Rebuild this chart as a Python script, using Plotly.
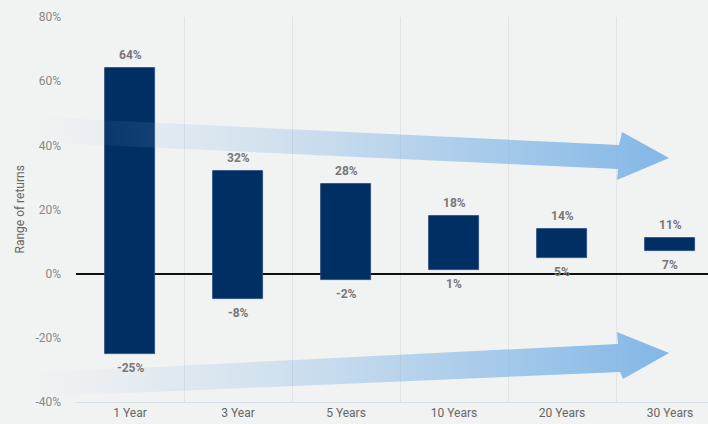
import plotly.graph_objects as go

# ---- data ----
categories = ["1 Year", "3 Year", "5 Years", "10 Years", "20 Years", "30 Years"]
low = [-25, -8, -2, 1, 5, 7]
high = [64, 32, 28, 18, 14, 11]
y_ticks = [-40, -20, 0, 20, 40, 60, 80]
y_tick_text = [f"{v}%" for v in y_ticks]

W, H = 708, 424
L, R, T, B = 76, 708, 17, 402  # plot-area pixel box
BG = "#F1F2F2"
BAR = "#002F63"

fig = go.Figure()

# floating bars (low -> high)
fig.add_trace(go.Bar(
    x=categories,
    y=[h - l for h, l in zip(high, low)],
    base=low,
    width=0.47,
    marker=dict(color=BAR, line=dict(color="#24497a", width=0.8)),
    hoverinfo="skip",
    xaxis="x", yaxis="y",
))

# decorative gradient arrows on a full-figure pixel overlay
def arrow(tail_top, tail_bot, shaft_top, shaft_bot, head_top, tip, head_bot):
    xs = [tail_top[0], shaft_top[0], head_top[0], tip[0], head_bot[0], shaft_bot[0], tail_bot[0], tail_top[0]]
    ys = [tail_top[1], shaft_top[1], head_top[1], tip[1], head_bot[1], shaft_bot[1], tail_bot[1], tail_top[1]]
    return go.Scatter(
        x=xs, y=ys, mode="lines", fill="toself",
        line=dict(width=0, color="rgba(0,0,0,0)"),
        fillgradient=dict(
            type="horizontal",
            colorscale=[[0, "rgba(125,180,230,0)"], [0.1, "rgba(125,180,230,0.06)"],
                        [0.35, "rgba(125,180,230,0.25)"],
                        [0.7, "rgba(125,180,230,0.62)"], [1, "rgba(125,180,230,0.95)"]],
        ),
        hoverinfo="skip", showlegend=False, xaxis="x2", yaxis="y2",
    )

fig.add_trace(arrow((35, 117), (35, 142), (619, 145), (618, 169), (622, 132), (669, 158), (617, 180)))
fig.add_trace(arrow((35, 373), (35, 397), (618, 344), (620, 372), (617, 332), (669, 353), (623, 379)))

# value labels
lab_font = dict(family="Roboto", size=12, color="#777777", weight="bold")
ann = []
for c, h, l in zip(categories, high, low):
    ann.append(dict(x=c, y=h, xref="x", yref="y", text=f"{h}%", showarrow=False,
                    yshift=13, font=lab_font))
    ann.append(dict(x=c, y=l, xref="x", yref="y", text=f"{l}%", showarrow=False,
                    yshift=-14, font=lab_font))
ann.append(dict(x=19 / W, y=1 - ((T + B) / 2) / H, xref="paper", yref="paper",
                xanchor="center", yanchor="middle",
                text="Range of returns", textangle=-90, showarrow=False,
                font=dict(family="Roboto", size=12, color="#666666")))

cat_w = 108.0
fig.update_layout(
    width=W, height=H,
    margin=dict(l=0, r=0, t=0, b=0, autoexpand=False),
    paper_bgcolor=BG, plot_bgcolor="rgba(0,0,0,0)",
    showlegend=False,
    bargap=0,
    font=dict(family="Roboto", size=12, color="#777777"),
    xaxis=dict(
        domain=[L / W, R / W],
        type="category",
        range=[-0.5, -0.5 + (R - L) / cat_w],
        tickson="boundaries",
        showgrid=True, gridcolor="#E1E3E4", gridwidth=1,
        showline=True, linecolor="#D5DDE8", linewidth=1,
        ticks="", tickfont=dict(family="Roboto", size=12, color="#666666"),
        automargin=False, fixedrange=True,
    ),
    yaxis=dict(
        domain=[1 - B / H, 1 - T / H],
        range=[-40, 80],
        tickmode="array", tickvals=y_ticks, ticktext=y_tick_text,
        showgrid=False,
        zeroline=True, zerolinecolor="#111111", zerolinewidth=2,
        ticks="", ticklabelstandoff=14,
        tickfont=dict(family="Roboto", size=12, color="#888888"),
        automargin=False, fixedrange=True,
    ),
    xaxis2=dict(domain=[0, 1], range=[0, W], visible=False, anchor="y2",
                automargin=False, fixedrange=True),
    yaxis2=dict(domain=[0, 1], range=[H, 0], visible=False, anchor="x2",
                automargin=False, fixedrange=True),
    annotations=ann,
)

fig.write_html("out.html")
